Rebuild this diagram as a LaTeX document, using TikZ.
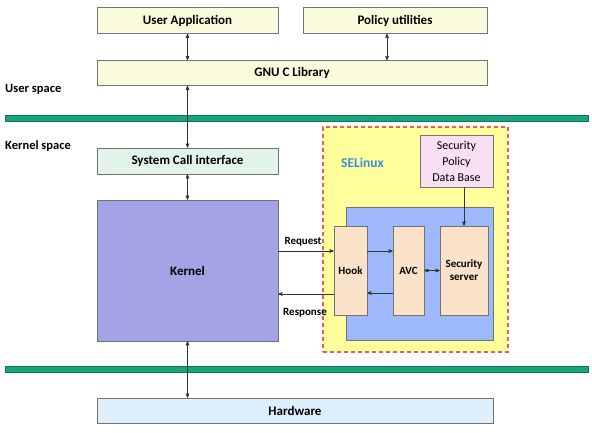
\documentclass[tikz,border=0pt]{standalone}
\usepackage{fontspec}
\setmainfont{Carlito}
\usepackage{tikz}
\usetikzlibrary{arrows}
\usetikzlibrary{positioning}

\definecolor{cream}{HTML}{FAFADC}
\definecolor{mint}{HTML}{E2F4EA}
\definecolor{lavender}{HTML}{A3A3E6}
\definecolor{skyblue}{HTML}{DDEEFC}
\definecolor{rail}{HTML}{19A57C}
\definecolor{seyellow}{HTML}{FFFF9C}
\definecolor{sered}{HTML}{F55A50}
\definecolor{pinkbox}{HTML}{F9DFF2}
\definecolor{avcblue}{HTML}{9DB9FB}
\definecolor{peach}{HTML}{FBE2C9}
\definecolor{selabel}{HTML}{3A8FE0}

\begin{document}
\begin{tikzpicture}[x=1pt,y=-1pt,>=stealth',
  box/.style={draw=black!55,line width=0.6pt,inner sep=0pt,font=\bfseries\fontsize{13}{15}\selectfont},
  small box/.style={box,fill=peach,minimum height=89pt,font=\bfseries\fontsize{11}{13}\selectfont},
  arr/.style={draw=black!80,line width=0.6pt},
  lbl/.style={font=\bfseries\fontsize{12.5}{15}\selectfont,inner sep=0pt}]

  \useasboundingbox (0,0) rectangle (592,432);

  \node[box,fill=cream,minimum width=181pt,minimum height=26pt] (ua) at (187.5,20.5) {User Application};
  \node[box,fill=cream,minimum width=184pt,minimum height=26pt] (pu) at (395,20.5) {Policy utilities};
  \node[box,fill=cream,minimum width=390pt,minimum height=25pt] (glibc) at (292,73) {GNU C Library};
  \node[lbl,anchor=west] (us) at (5,89) {User space};

  \filldraw[fill=rail,draw=rail!70!black,line width=0.6pt] (5,115) rectangle (588,121);

  \node[lbl,anchor=west] (ks) at (5,146) {Kernel space};
  \node[box,fill=mint,minimum width=181pt,minimum height=26pt] (sci) at (187.5,161) {System Call interface};
  \node[box,fill=lavender,minimum width=181pt,minimum height=141pt] (kernel) at (187.5,270.5) {Kernel};

  \node[draw=sered,fill=seyellow,line width=1.2pt,dash pattern=on 4pt off 3pt,minimum width=185pt,minimum height=225pt] (se) at (415.5,239.5) {};
  \node[font=\bfseries\fontsize{13.5}{15}\selectfont,text=selabel,anchor=west,inner sep=0pt] (selbl) at (341,163) {SELinux};
  \node[draw=black!55,fill=pinkbox,line width=0.6pt,minimum width=73pt,minimum height=52pt,align=center,inner sep=0pt,font=\fontsize{12}{16}\selectfont] (db) at (456.5,161) {Security\\Policy\\Data Base};
  \node[draw=black!55,fill=avcblue,line width=0.6pt,minimum width=147pt,minimum height=133pt] (blue) at (419.5,273.5) {};
  \node[small box,minimum width=33pt] (hook) at (350.5,270.5) {Hook};
  \node[small box,minimum width=31pt] (avc) at (408.5,270.5) {AVC};
  \node[small box,minimum width=48pt,align=center] (server) at (464,270.5) {Security\\server};

  \filldraw[fill=rail,draw=rail!70!black,line width=0.6pt] (5,366) rectangle (588,372);

  \node[box,fill=skyblue,minimum width=396pt,minimum height=25pt] (hw) at (295,410.5) {Hardware};

  \node[lbl,font=\bfseries\fontsize{11}{13}\selectfont] (req) at (303,242) {Request};
  \node[lbl,font=\bfseries\fontsize{11}{13}\selectfont] (resp) at (305,313) {Response};

  \draw[arr,<->] (ua.south) -- (ua.south |- glibc.north);
  \draw[arr,<->] ([xshift=-8pt]pu.south) -- ([xshift=-8pt]pu.south |- glibc.north);
  \draw[arr,<->] (glibc.south -| sci.north) -- (sci.north);
  \draw[arr,<->] (sci.south) -- (kernel.north);
  \draw[arr,<->] (kernel.south) -- (kernel.south |- hw.north);
  \draw[arr,->] ([yshift=19.5pt]kernel.east) -- ([yshift=19.5pt]hook.west);
  \draw[arr,->] ([yshift=-23.5pt]hook.west) -- ([yshift=-23.5pt]kernel.east);
  \draw[arr,->] ([yshift=19.5pt]hook.east) -- ([yshift=19.5pt]avc.west);
  \draw[arr,->] ([yshift=-22.5pt]avc.west) -- ([yshift=-22.5pt]hook.east);
  \draw[arr,<->] (avc.east) -- (server.west);
  \draw[arr,->] (db.south -| server.north) -- (server.north);
\end{tikzpicture}
\end{document}
